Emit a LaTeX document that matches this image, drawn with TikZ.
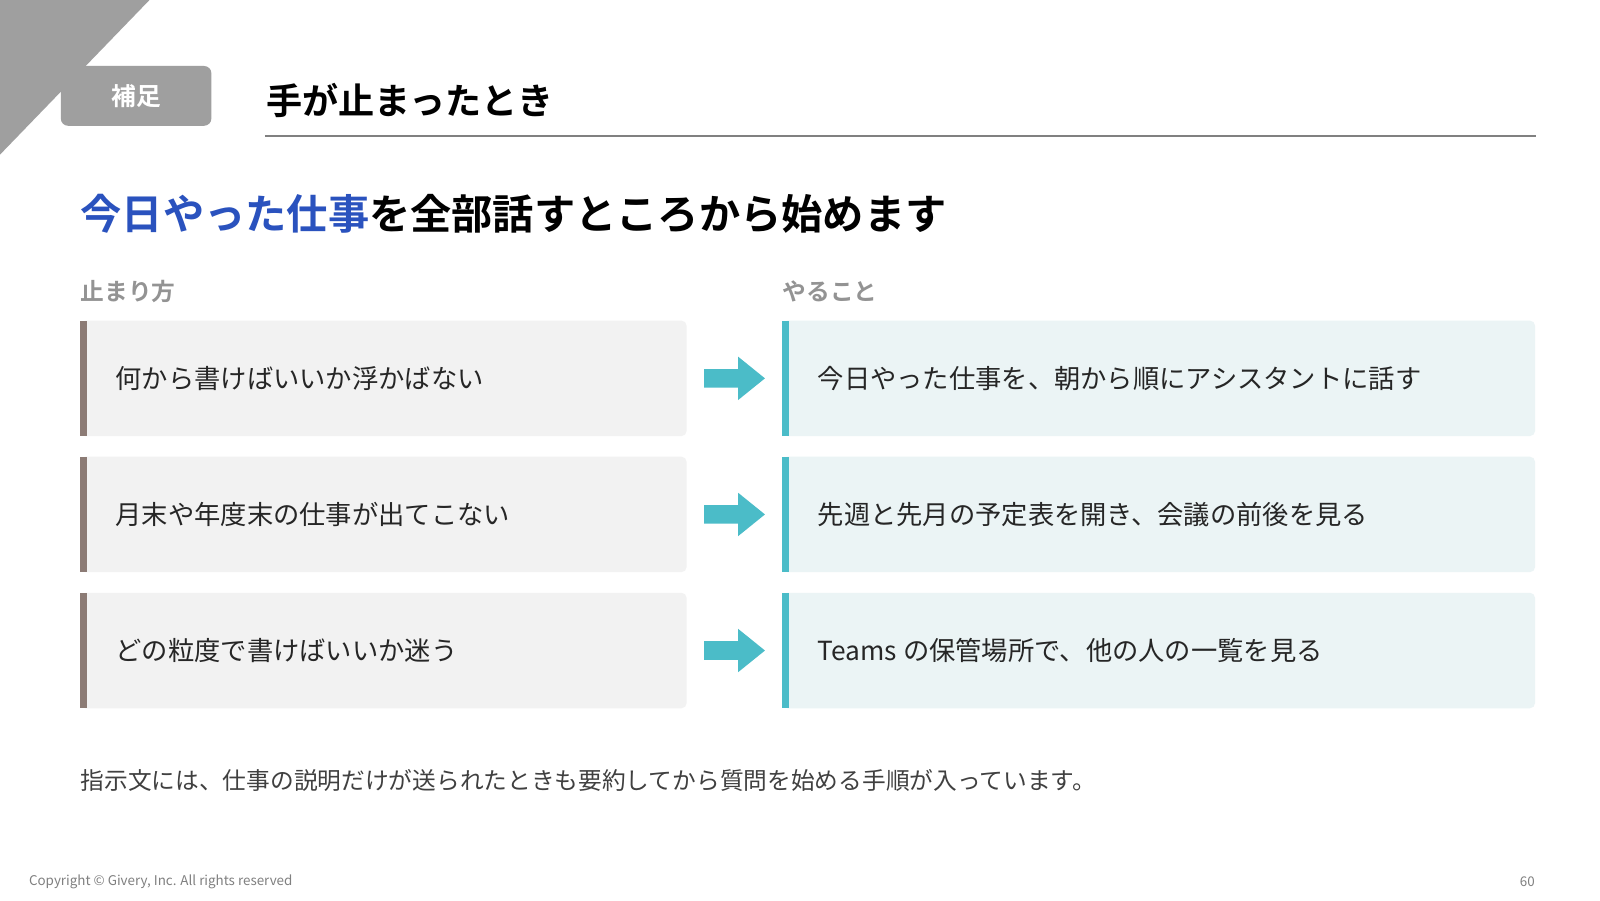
\documentclass[tikz,border=0pt]{standalone}
\usepackage{fontspec}
\setmainfont{Noto Sans CJK JP}
\newfontfamily\jpb{Noto Sans CJK JP Bold}
\begin{document}
\begin{tikzpicture}[x=1pt,y=-1pt,
  rowtxt/.style={anchor=west,font=\fontsize{25.5}{25.5}\selectfont,text=black!85}]
\definecolor{arrc}{HTML}{4BBCC8}
\definecolor{bar}{HTML}{8C7B75}
\definecolor{rfill}{HTML}{EBF4F5}
\definecolor{blu}{HTML}{2A52BE}
\useasboundingbox[fill=white] (0,0) rectangle (1552,873);
\fill[gray!75] (0,0) -- (145,0) -- (0,150) -- cycle;
\node[fill=gray!75,rounded corners=7pt,minimum width=146pt,minimum height=58pt,text=white,font=\jpb\fontsize{24}{24}\selectfont] (badge) at (132,93) {補足};
\node[anchor=west,font=\jpb\fontsize{35}{35}\selectfont,inner sep=0] (title) at (258,97) {手が止まったとき};
\coordinate (l1) at (257,132); \coordinate (l2) at (1490,132);
\draw[gray,line width=1.5pt] (l1) -- (l2);
\node[anchor=west,font=\jpb\fontsize{40}{40}\selectfont,inner sep=0] (head) at (78,207) {\textcolor{blu}{今日やった仕事}を全部話すところから始めます};
\node[anchor=west,font=\jpb\fontsize{23}{23}\selectfont,text=gray!85,inner sep=0] (h1) at (78,283) {止まり方};
\node[anchor=west,font=\jpb\fontsize{23}{23}\selectfont,text=gray!85,inner sep=0] (h2) at (759,283) {やること};
\foreach \y/\a/\b [count=\i] in {367/何から書けばいいか浮かばない/今日やった仕事を、朝から順にアシスタントに話す,
  499/月末や年度末の仕事が出てこない/先週と先月の予定表を開き、会議の前後を見る,
  631/どの粒度で書けばいいか迷う/Teams の保管場所で、他の人の一覧を見る}{
  \fill[gray!10,rounded corners=5pt] (78,\y-56) rectangle (666,\y+56);
  \fill[bar] (78,\y-56) rectangle (84,\y+56);
  \fill[rfill,rounded corners=5pt] (759,\y-56) rectangle (1489,\y+56);
  \fill[arrc] (759,\y-56) rectangle (765,\y+56);
  \node[rowtxt,inner sep=0] (a\i) at (112,\y) {\a};
  \node[rowtxt,inner sep=0] (b\i) at (793,\y) {\b};
  \fill[arrc] (683,\y-9) -- (716,\y-9) -- (716,\y-21) -- (742,\y) -- (716,\y+21) -- (716,\y+9) -- (683,\y+9) -- cycle;
}
\node[anchor=west,inner sep=0,font=\fontsize{23}{23}\selectfont,text=black!75] (foot) at (78,757) {指示文には、仕事の説明だけが送られたときも要約してから質問を始める手順が入っています。};
\node[anchor=west,inner sep=0,font=\fontsize{13}{13}\selectfont,text=gray] (copy) at (28,855) {Copyright © Givery, Inc. All rights reserved};
\node[anchor=east,inner sep=0,font=\fontsize{13}{13}\selectfont,text=gray] (pg) at (1489,855) {60};
\end{tikzpicture}
\end{document}
